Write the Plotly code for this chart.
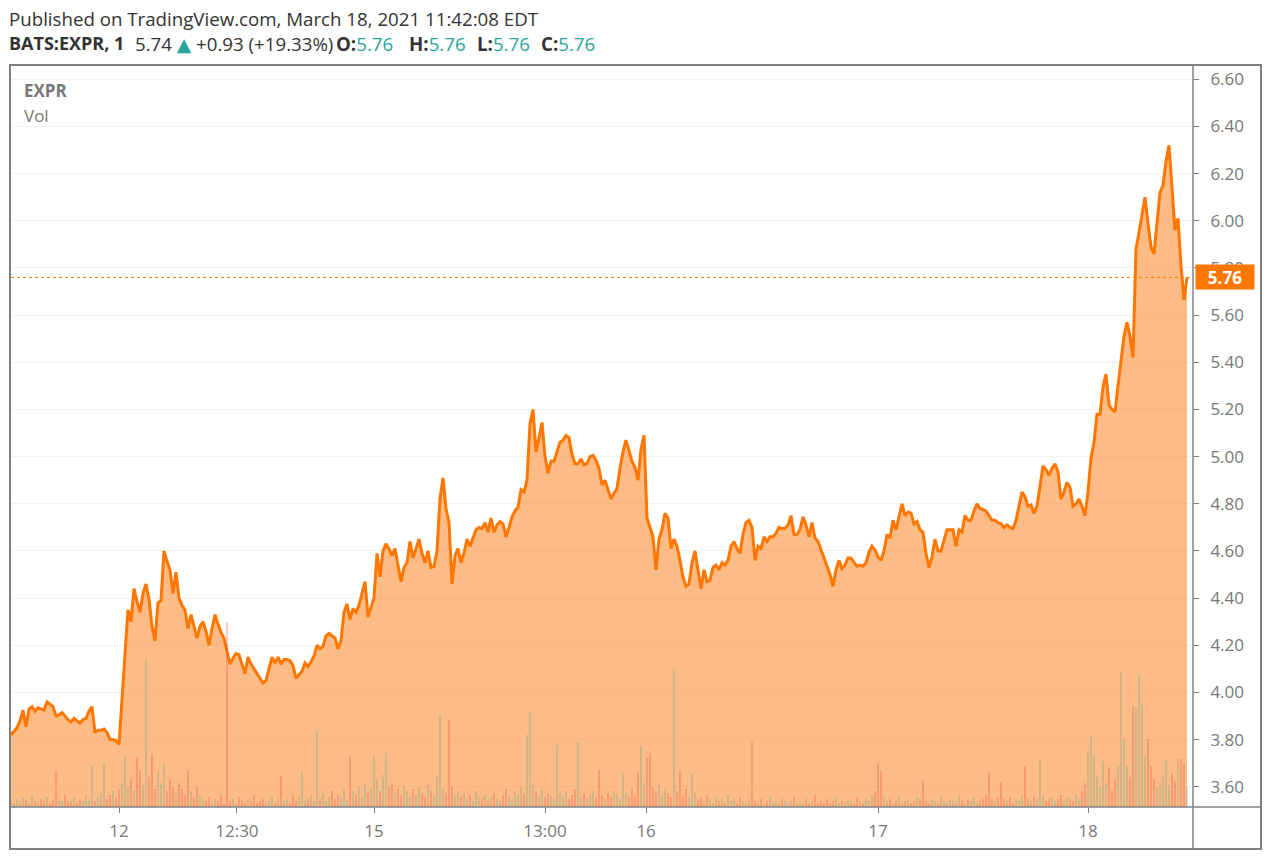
import plotly.graph_objects as go

# ---- data (one sample every ~3 minute-bars) ----
prices = [
    3.82, 3.835, 3.85, 3.88, 3.925, 3.855, 3.93, 3.94, 3.92, 3.935,
    3.93, 3.925, 3.96, 3.95, 3.94, 3.90, 3.905, 3.915, 3.90, 3.885,
    3.875, 3.89, 3.88, 3.87, 3.885, 3.89, 3.92, 3.94, 3.83, 3.84,
    3.84, 3.845, 3.83, 3.80, 3.80, 3.795, 3.78, 3.98, 4.20, 4.35,
    4.30, 4.44, 4.385, 4.34, 4.42, 4.46, 4.395, 4.28, 4.22, 4.38,
    4.39, 4.60, 4.555, 4.52, 4.42, 4.51, 4.40, 4.37, 4.35, 4.27,
    4.33, 4.28, 4.23, 4.28, 4.30, 4.26, 4.20, 4.27, 4.33, 4.29,
    4.255, 4.23, 4.17, 4.12, 4.145, 4.165, 4.16, 4.12, 4.08, 4.15,
    4.12, 4.10, 4.08, 4.06, 4.04, 4.05, 4.10, 4.15, 4.125, 4.15,
    4.12, 4.14, 4.14, 4.135, 4.115, 4.06, 4.075, 4.09, 4.125, 4.11,
    4.13, 4.155, 4.20, 4.185, 4.195, 4.24, 4.25, 4.24, 4.23, 4.185,
    4.22, 4.34, 4.375, 4.31, 4.355, 4.34, 4.37, 4.42, 4.47, 4.32,
    4.365, 4.40, 4.59, 4.49, 4.60, 4.63, 4.61, 4.58, 4.61, 4.53,
    4.47, 4.53, 4.55, 4.64, 4.57, 4.61, 4.65, 4.59, 4.55, 4.60,
    4.53, 4.535, 4.60, 4.82, 4.91, 4.78, 4.72, 4.46, 4.58, 4.61,
    4.55, 4.59, 4.65, 4.62, 4.66, 4.69, 4.70, 4.695, 4.72, 4.68,
    4.74, 4.68, 4.71, 4.725, 4.715, 4.66, 4.70, 4.745, 4.77, 4.785,
    4.86, 4.85, 4.90, 5.14, 5.20, 5.02, 5.08, 5.145, 5.00, 4.93,
    4.98, 4.98, 5.02, 5.06, 5.07, 5.09, 5.08, 5.01, 4.97, 4.97,
    4.99, 4.965, 4.97, 5.00, 5.005, 4.985, 4.95, 4.88, 4.90, 4.855,
    4.82, 4.845, 4.865, 4.95, 5.02, 5.07, 5.03, 4.98, 4.955, 4.90,
    5.03, 5.09, 4.74, 4.70, 4.66, 4.52, 4.65, 4.69, 4.76, 4.74,
    4.61, 4.65, 4.62, 4.56, 4.49, 4.45, 4.46, 4.55, 4.60, 4.52,
    4.44, 4.52, 4.47, 4.475, 4.53, 4.54, 4.52, 4.55, 4.54, 4.56,
    4.62, 4.64, 4.61, 4.59, 4.67, 4.72, 4.73, 4.70, 4.56, 4.62,
    4.61, 4.66, 4.64, 4.66, 4.66, 4.675, 4.70, 4.695, 4.695, 4.71,
    4.75, 4.67, 4.67, 4.69, 4.745, 4.71, 4.66, 4.72, 4.655, 4.64,
    4.605, 4.57, 4.54, 4.50, 4.45, 4.52, 4.56, 4.525, 4.54, 4.57,
    4.57, 4.55, 4.535, 4.54, 4.535, 4.55, 4.595, 4.62, 4.605, 4.575,
    4.56, 4.60, 4.67, 4.655, 4.73, 4.69, 4.74, 4.80, 4.75, 4.765,
    4.76, 4.715, 4.725, 4.69, 4.68, 4.59, 4.53, 4.575, 4.65, 4.60,
    4.60, 4.645, 4.69, 4.69, 4.69, 4.62, 4.69, 4.68, 4.75, 4.73,
    4.73, 4.77, 4.80, 4.78, 4.775, 4.77, 4.75, 4.73, 4.73, 4.72,
    4.715, 4.70, 4.71, 4.70, 4.695, 4.73, 4.79, 4.85, 4.83, 4.79,
    4.795, 4.76, 4.79, 4.88, 4.96, 4.945, 4.92, 4.95, 4.97, 4.935,
    4.82, 4.85, 4.89, 4.87, 4.79, 4.80, 4.82, 4.79, 4.75, 4.85,
    4.995, 5.06, 5.18, 5.18, 5.295, 5.35, 5.22, 5.20, 5.19, 5.30,
    5.40, 5.51, 5.57, 5.51, 5.42, 5.88, 5.95, 6.02, 6.10, 5.99,
    5.89, 5.86, 5.99, 6.12, 6.15, 6.25, 6.32, 6.14, 5.96, 6.01,
    5.81, 5.665, 5.76,
]

volume_k = [
    3, 2, 4, 2.5, 5, 3.5, 2, 6, 3, 2.5,
    4, 3, 5, 2, 3.5, 18, 4, 3, 6, 2.5,
    3, 5, 2, 4, 3, 6, 4, 20.5, 3, 5,
    7, 22, 4, 6, 8, 5, 9, 12, 25, 10,
    14, 8, 25, 18, 11, 74.5, 15, 26.5, 9, 17,
    12, 22, 8, 14, 10, 7, 12, 9, 6, 18,
    8, 5, 10, 6, 4, 3, 5, 2.5, 4, 3,
    6, 2, 92.5, 3, 4, 2, 5, 3, 2, 4,
    3, 6, 2, 3, 4, 2.5, 3, 5, 2, 4,
    15.5, 3, 4, 2, 6, 3, 5, 17.5, 3, 4,
    6, 3, 38.5, 4, 7, 3, 5, 8, 4, 6,
    5, 9, 4, 25.5, 8, 6, 10, 5, 12, 7,
    9, 25.5, 14, 8, 16, 27, 10, 12, 7, 9,
    6, 11, 8, 5, 9, 6, 10, 7, 5, 12,
    8, 6, 15, 45.5, 9, 7, 43.5, 10, 6, 8,
    5, 7, 4, 6, 3, 8, 5, 4, 6, 3,
    5, 7, 4, 3, 6, 9, 5, 4, 8, 6,
    10, 7, 36, 48, 12, 8, 6, 9, 5, 7,
    6, 4, 31, 7, 5, 8, 4, 6, 9, 32.5,
    5, 7, 4, 6, 8, 5, 18.5, 6, 4, 7,
    5, 8, 6, 4, 17, 7, 5, 9, 6, 17.5,
    30.5, 12, 24.5, 27, 10, 8, 12, 6, 9, 7,
    5, 68.5, 8, 18, 6, 9, 5, 16.5, 7, 4,
    5, 3, 6, 4, 2, 5, 3, 4, 2, 6,
    3, 4, 2, 5, 3, 2, 4, 32.5, 3, 2,
    4, 2, 3, 5, 2, 3, 2, 4, 3, 2,
    3, 5, 2, 3, 2, 4, 2, 3, 6, 2,
    3, 2, 4, 2, 3, 5, 2, 3, 2, 4,
    3, 2, 5, 3, 2, 4, 3, 6, 8, 22,
    18, 5, 3, 4, 2, 3, 5, 2, 3, 4,
    2, 3, 5, 4, 13, 3, 2, 4, 3, 2,
    5, 3, 2, 4, 3, 2, 6, 3, 2, 4,
    3, 5, 2, 3, 4, 6, 17.5, 4, 3, 5,
    12.5, 4, 3, 5, 2, 4, 3, 6, 20.5, 4,
    3, 5, 4, 23, 6, 3, 4, 5, 3, 4,
    6, 3, 5, 4, 3, 6, 4, 8, 12, 28,
    35.5, 25.5, 15, 10, 23, 12, 20, 9, 14, 20.5,
    68, 34, 20.5, 15, 50.5, 50, 66.5, 52, 25.5, 34,
    20.5, 14, 10, 12, 15.5, 23.5, 11, 17, 13, 24,
    24, 21.5, 10,
]

x_tick_bars = [36, 75.3, 121, 178, 211.7, 289, 359]
x_tick_labels = ["12", "12:30", "15", "13:00", "16", "17", "18"]
y_tick_values = [3.6, 3.8, 4.0, 4.2, 4.4, 4.6, 4.8, 5.0, 5.2, 5.4, 5.6, 5.8, 6.0, 6.2, 6.4, 6.6]
last_price = 5.76

# header values
symbol_text = "BATS:EXPR, 1"
last_text = "5.74"
change_text = "+0.93 (+19.33%)"
ohlc_labels = ["O:", "H:", "L:", "C:"]
ohlc_values = ["5.76", "5.76", "5.76", "5.76"]

bars = list(range(len(prices)))

# ---- styles ----
FONT = "Open Sans, Noto Sans, DejaVu Sans, sans-serif"
LINE = "#ff7600"
TEAL = "#26a69a"
AXIS_TXT = "#787878"
FRAME = "#808080"

vol_colors = []
for i, p in enumerate(prices):
    up = i == 0 or p >= prices[i - 1]
    vol_colors.append("rgba(60,160,140,0.30)" if up else "rgba(239,83,80,0.42)")

fig = go.Figure()
fig.add_trace(go.Scatter(
    x=bars, y=prices, mode="lines",
    line=dict(color=LINE, width=3),
    fill="tozeroy", fillcolor="rgba(251,131,33,0.55)",
    hoverinfo="skip", showlegend=False,
))
fig.add_trace(go.Bar(
    x=bars, y=volume_k, yaxis="y2", width=0.5,
    marker=dict(color=vol_colors, line=dict(width=0)),
    hoverinfo="skip", showlegend=False,
))

W, H = 1270, 860
L, R, T, B = 11, 77, 66, 53
pw, ph = W - L - R, H - T - B


def px(xp):
    return (xp - L) / pw


def py(yp):
    return (H - B - yp) / ph


fig.update_layout(
    width=W, height=H,
    margin=dict(l=L, r=R, t=T, b=B, pad=0),
    paper_bgcolor="white", plot_bgcolor="white",
    font=dict(family=FONT, color=AXIS_TXT, size=17),
    xaxis=dict(
        range=[0, 394], showgrid=False, zeroline=False, showline=False,
        tickmode="array", tickvals=x_tick_bars, ticktext=x_tick_labels,
        ticks="outside", ticklen=5, tickcolor=FRAME, tickwidth=1,
        tickfont=dict(size=17, color=AXIS_TXT, family=FONT),
        ticklabelstandoff=4,
    ),
    yaxis=dict(
        side="right", range=[3.5143, 6.6564],
        tickmode="array", tickvals=y_tick_values,
        ticktext=[f"{v:.2f}" for v in y_tick_values],
        showgrid=True, gridcolor="#f0f2f6", gridwidth=1,
        zeroline=False, showline=False,
        ticks="outside", ticklen=5, tickcolor=FRAME, tickwidth=1,
        tickfont=dict(size=17, color=AXIS_TXT, family=FONT),
        ticklabelstandoff=8,
    ),
    yaxis2=dict(overlaying="y", range=[0, 371], visible=False, fixedrange=True),
    barmode="overlay",
    showlegend=False,
)

shapes = [
    dict(type="rect", xref="paper", yref="paper",
         x0=px(10), x1=px(1261), y0=py(849), y1=py(65),
         line=dict(color=FRAME, width=2), fillcolor="rgba(0,0,0,0)", layer="above"),
    dict(type="line", xref="paper", yref="paper",
         x0=1, x1=1, y0=py(849), y1=py(65),
         line=dict(color=FRAME, width=1.5), layer="above"),
    dict(type="line", xref="paper", yref="paper",
         x0=px(10), x1=px(1261), y0=0, y1=0,
         line=dict(color=FRAME, width=1.5), layer="above"),
    dict(type="line", xref="paper", yref="y",
         x0=0, x1=1, y0=last_price, y1=last_price,
         line=dict(color=LINE, width=1, dash="dot"), layer="above"),
]
fig.update_layout(shapes=shapes)

hdr_color = "#333333"
HDR_SIZE = 18.7


def hdr(text, x_px, y_px, size=HDR_SIZE, color=hdr_color):
    return dict(text=text, xref="paper", yref="paper", x=px(x_px), y=py(y_px),
                xanchor="left", yanchor="middle", showarrow=False, borderpad=0,
                font=dict(size=size, color=color, family=FONT))


teal = lambda t: f"<span style='color:{TEAL}'>{t}</span>"

annotations = [
    hdr("Published on TradingView.com, March 18, 2021 11:42:08 EDT", 8, 18),
    hdr(f"<b>{symbol_text}</b>", 8, 43, size=18),
    hdr(f"{last_text} {teal('▲')} {change_text}", 134, 43),
]
for lab, val, xpos in zip(ohlc_labels, ohlc_values, [335, 408, 476, 540]):
    annotations.append(hdr(f"<b>{lab}</b>{teal(val)}", xpos, 43))

annotations += [
    dict(text="<b>EXPR</b>", xref="paper", yref="paper", x=px(22), y=py(91),
         xanchor="left", yanchor="middle", showarrow=False,
         font=dict(size=17, color=AXIS_TXT, family=FONT)),
    dict(text="Vol", xref="paper", yref="paper", x=px(22), y=py(116),
         xanchor="left", yanchor="middle", showarrow=False,
         font=dict(size=17, color=AXIS_TXT, family=FONT)),
    dict(text=f"<b>{last_price:.2f}</b>", xref="paper", yref="y",
         x=1, y=last_price, xanchor="left", yanchor="middle", xshift=2,
         showarrow=False, bgcolor=LINE, width=54, height=20, borderpad=2,
         align="center", font=dict(size=17, color="white", family=FONT)),
]
fig.update_layout(annotations=annotations)

fig.write_html("out.html")
